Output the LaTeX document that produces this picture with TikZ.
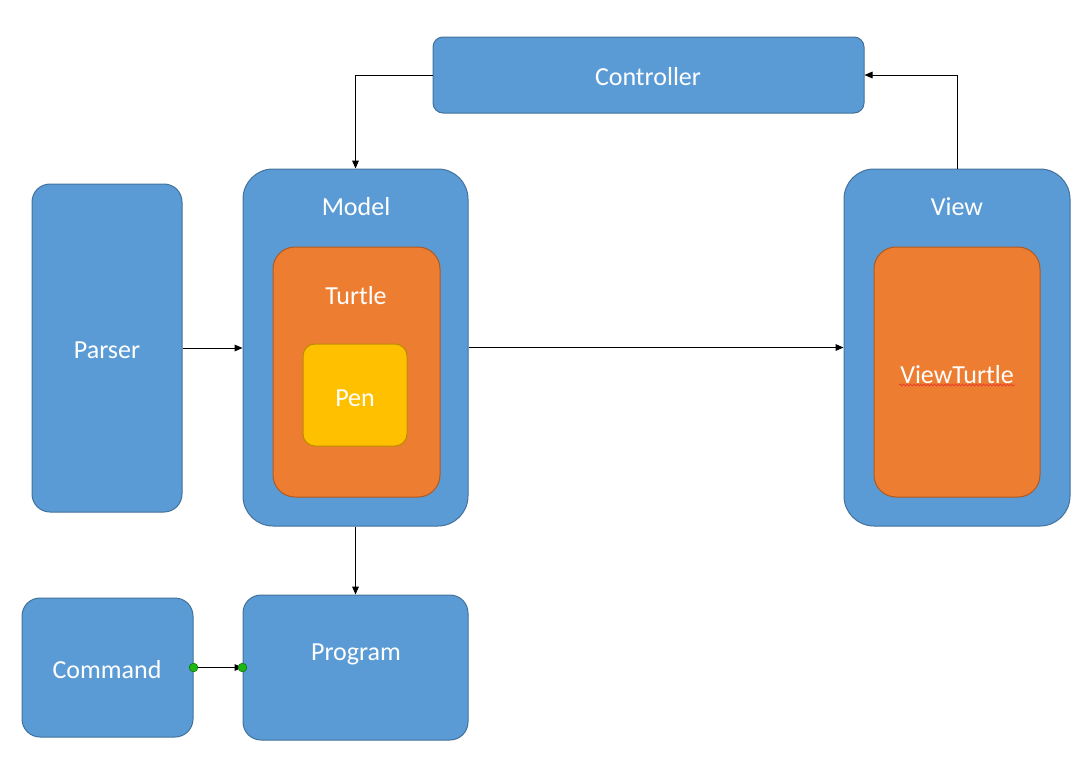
\documentclass[tikz,border=0pt]{standalone}
\usepackage{fontspec}
\setmainfont{Carlito}
\usetikzlibrary{arrows.meta,decorations.pathmorphing}
\definecolor{fblue}{HTML}{5B9BD5}
\definecolor{bblue}{HTML}{41719C}
\definecolor{forange}{HTML}{ED7D31}
\definecolor{borange}{HTML}{AE5A21}
\definecolor{fyellow}{HTML}{FFC000}
\definecolor{byellow}{HTML}{BC8C00}
\definecolor{dgreen}{HTML}{1DB814}
\definecolor{dgreenb}{HTML}{0F7A0A}
\definecolor{squig}{HTML}{E8402A}
\begin{document}
\begin{tikzpicture}[x=0.75pt,y=-0.75pt,
  blk/.style={draw=bblue, fill=fblue, line width=0.75pt, inner sep=0pt},
  org/.style={blk, draw=borange, fill=forange},
  yel/.style={blk, draw=byellow, fill=fyellow},
  lbl/.style={inner sep=0pt, text=white, font=\fontsize{19.5}{23}\selectfont},
  arr/.style={draw=black, line width=0.75pt, -{Triangle[length=6pt,width=5pt]}},
  gdot/.style={circle, draw=dgreenb, fill=dgreen, line width=0.5pt, minimum size=6.5pt, inner sep=0pt}
]
\useasboundingbox (0,0) rectangle (1084,761);

\node[blk, rounded corners=7.5pt, minimum width=323.25pt, minimum height=57pt] (ctrl) at (648.5,75) {};
\node[blk, rounded corners=13.5pt, minimum width=112.5pt, minimum height=246pt] (parser) at (107,348) {};
\node[blk, rounded corners=22.5pt, minimum width=168.75pt, minimum height=267.75pt] (model) at (355.5,347.5) {};
\node[org, rounded corners=16.5pt, minimum width=125.25pt, minimum height=187.5pt] (turtle) at (356.5,372) {};
\node[yel, rounded corners=9pt, minimum width=78pt, minimum height=76.5pt] (pen) at (355,395) {};
\node[blk, rounded corners=22.5pt, minimum width=169.5pt, minimum height=267.75pt] (view) at (957,347.5) {};
\node[org, rounded corners=16.5pt, minimum width=124.5pt, minimum height=187.5pt] (vturtle) at (957,372) {};
\node[blk, rounded corners=13.5pt, minimum width=128.25pt, minimum height=104.25pt] (command) at (107.5,667.5) {};
\node[blk, rounded corners=13.5pt, minimum width=168.75pt, minimum height=108.75pt] (program) at (355.5,667.5) {};

\node[lbl] (ctrltxt) at (648,77) {Controller};
\node[lbl] (parsertxt) at (107,350) {Parser};
\node[lbl] (modeltxt) at (356,207) {Model};
\node[lbl] (turtletxt) at (356,296) {Turtle};
\node[lbl] (pentxt) at (355,398) {Pen};
\node[lbl] (viewtxt) at (957,207) {View};
\node[lbl] (vturtletxt) at (957,375) {ViewTurtle};
\node[lbl] (commandtxt) at (107,670) {Command};
\node[lbl] (progtxt) at (356,654) {Program};

\draw[squig, line width=0.6pt, decorate, decoration={snake, amplitude=0.7pt, segment length=2.6pt}]
  (899,385) -- (1015,385);

\draw[arr] (ctrl.west) -| (model.north);
\draw[arr] (view.north) |- (ctrl.east);
\draw[arr] (parser.east) -- (parser.east -| model.west);
\draw[arr] (model.east) -- (view.west);
\draw[arr] (model.south) -- (program.north);

\coordinate (cs) at (command.east);
\coordinate (ce) at (command.east -| program.west);
\draw[arr] (cs) -- (ce);
\node[gdot] (d1) at (cs) {};
\node[gdot] (d2) at (ce) {};
\end{tikzpicture}
\end{document}
